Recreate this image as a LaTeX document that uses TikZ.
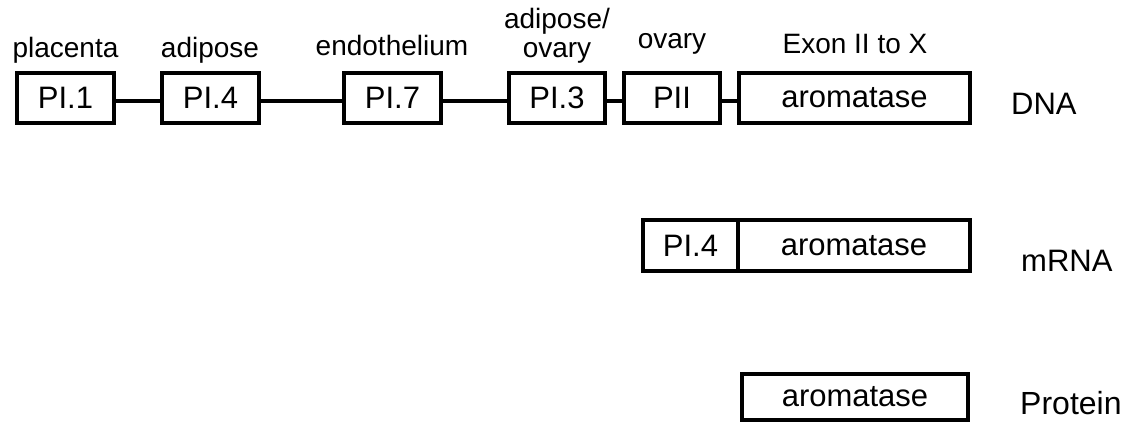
\documentclass[tikz,border=0pt]{standalone}
\usepackage{fontspec}
\setmainfont{Liberation Sans}
\begin{document}
\begin{tikzpicture}[x=1pt,y=-1pt,
  gene/.style={draw=black,line width=4pt,rectangle,inner sep=0pt,minimum height=50pt,font=\fontsize{31}{33}\selectfont},
  lbl/.style={anchor=base,inner sep=0pt,font=\fontsize{28}{30}\selectfont},
  side/.style={anchor=base west,inner sep=0pt,font=\fontsize{31}{33}\selectfont},
  link/.style={line width=4pt}]
\useasboundingbox (0,0) rectangle (1133,423);
% DNA row
\node[gene,minimum width=97pt] (p1) at (65.5,98) {PI.1};
\node[gene,minimum width=97pt] (p4) at (210.5,98) {PI.4};
\node[gene,minimum width=97pt] (p7) at (392.5,98) {PI.7};
\node[gene,minimum width=96pt] (p3) at (557,98) {PI.3};
\node[gene,minimum width=96pt] (pii) at (672,98) {PII};
\node[gene,minimum width=231pt] (aro) at (854.5,98) {aromatase};
\draw[link] ([yshift=-3pt]p1.east) -- ([yshift=-3pt]p4.west);
\draw[link] ([yshift=-3pt]p4.east) -- ([yshift=-3pt]p7.west);
\draw[link] ([yshift=-3pt]p7.east) -- ([yshift=-3pt]p3.west);
\draw[link] ([yshift=-3pt]p3.east) -- ([yshift=-3pt]pii.west);
\draw[link] ([yshift=-3pt]pii.east) -- ([yshift=-3pt]aro.west);
% labels
\node[lbl] (l1) at (65.5,57) {placenta};
\node[lbl] (l4) at (210,57) {adipose};
\node[lbl] (l7) at (392,55) {endothelium};
\node[lbl] (l3a) at (557,28) {adipose/};
\node[lbl] (l3b) at (557,57) {ovary};
\node[lbl] (lii) at (672,48) {ovary};
\node[lbl] (lex) at (855,53) {Exon II to X};
\node[side] (dna) at (1011,114) {DNA};
% mRNA row
\node[gene,minimum width=95pt,minimum height=51pt] (m4) at (690.5,245.5) {PI.4};
\node[gene,minimum width=232pt,minimum height=51pt] (maro) at (854,245.5) {aromatase};
\node[side] (mrna) at (1021,271) {mRNA};
% Protein row
\node[gene,minimum width=226pt,minimum height=46pt] (prot) at (855,397) {aromatase};
\node[side,font=\fontsize{32}{34}\selectfont] (protein) at (1020,414) {Protein};
\end{tikzpicture}
\end{document}
